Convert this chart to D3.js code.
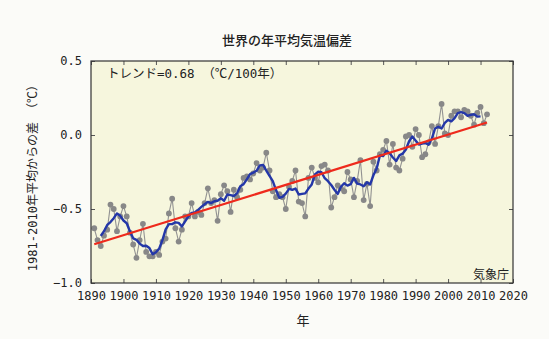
<!DOCTYPE html>
<html>
<head>
<meta charset="utf-8">
<script src="https://cdn.jsdelivr.net/npm/d3@7"></script>
<style>
  html, body { margin: 0; padding: 0; background: #fbfbf8; }
  svg { display: block; }
  text { font-family: "DejaVu Sans Mono", "Noto Sans CJK JP", sans-serif; fill: #222; }
</style>
</head>
<body>
<svg id="chart" width="549" height="339"></svg>
<script>
// Global annual mean surface temperature anomaly (°C, deviation from the 1981–2010 average)
const years = d3.range(1891, 2013);
const anomalies = [
  -0.63, -0.71, -0.75, -0.68, -0.64, -0.47, -0.50, -0.65, -0.55, -0.48,
  -0.55, -0.66, -0.74, -0.83, -0.71, -0.60, -0.79, -0.82, -0.82, -0.79,
  -0.81, -0.72, -0.70, -0.53, -0.43, -0.63, -0.72, -0.64, -0.55, -0.55,
  -0.46, -0.55, -0.52, -0.54, -0.46, -0.36, -0.46, -0.44, -0.58, -0.40,
  -0.34, -0.38, -0.52, -0.37, -0.42, -0.37, -0.29, -0.28, -0.30, -0.26,
  -0.19, -0.24, -0.22, -0.12, -0.24, -0.38, -0.42, -0.40, -0.42, -0.50,
  -0.35, -0.31, -0.24, -0.45, -0.46, -0.55, -0.29, -0.22, -0.29, -0.32,
  -0.21, -0.20, -0.24, -0.49, -0.42, -0.34, -0.36, -0.38, -0.25, -0.30,
  -0.42, -0.31, -0.17, -0.44, -0.33, -0.48, -0.18, -0.24, -0.13, -0.10,
  -0.04, -0.20, -0.06, -0.22, -0.24, -0.16, -0.01, 0.00, -0.08, 0.04,
  0.00, -0.15, -0.13, -0.05, 0.06, -0.06, 0.06, 0.21, 0.01, 0.00,
  0.13, 0.16, 0.16, 0.12, 0.17, 0.16, 0.13, 0.07, 0.15, 0.19,
  0.08, 0.14
];
const trendPerCentury = 0.68;   // °C per 100 years
const xTicks = d3.range(1890, 2021, 10);
const yTicks = [0.5, 0.0, -0.5, -1.0];

const titleText = "世界の年平均気温偏差";
const yTitle = "1981-2010年平均からの差 （℃）";
const xTitle = "年";
const trendLabel = "トレンド=0.68 （℃/100年）";
const sourceLabel = "気象庁";

const svg = d3.select("#chart");
const m = { left: 91, top: 61, right: 513, bottom: 283 };

const x = d3.scaleLinear().domain([1890, 2020]).range([m.left, m.right]);
const y = d3.scaleLinear().domain([-1.0, 0.5]).range([m.bottom, m.top]);

const data = years.map((yr, i) => ({ year: yr, v: anomalies[i] }));

// 5-year centred running mean
const smooth = [];
for (let i = 2; i < data.length - 2; i++) {
  smooth.push({ year: data[i].year, v: d3.mean(data.slice(i - 2, i + 3), d => d.v) });
}

// Linear trend with the stated slope, passing through the data centroid
const mYear = d3.mean(data, d => d.year), mVal = d3.mean(data, d => d.v);
const slope = trendPerCentury / 100;
const trend = [years[0], years[years.length - 1]].map(yr => ({ year: yr, v: mVal + slope * (yr - mYear) }));

// plot background
svg.append("rect")
  .attr("x", m.left).attr("y", m.top)
  .attr("width", m.right - m.left).attr("height", m.bottom - m.top)
  .attr("fill", "#f6f6dd");

const numFont = "'DejaVu Sans Mono', monospace";

// axes (ticks drawn inward)
const tickLen = 4;
svg.append("g").attr("transform", `translate(0,${m.bottom})`)
  .call(d3.axisBottom(x).tickValues(xTicks).tickSizeInner(-tickLen).tickSizeOuter(0).tickFormat(d3.format("d")).tickPadding(8))
  .call(g => g.select(".domain").remove())
  .call(g => g.selectAll("line").attr("stroke", "#555"))
  .call(g => g.selectAll("text").attr("font-size", 12).attr("fill", "#222").attr("font-family", numFont));

svg.append("g").attr("transform", `translate(0,${m.top})`)
  .call(d3.axisTop(x).tickValues(xTicks).tickSizeInner(-tickLen).tickSizeOuter(0).tickFormat(""))
  .call(g => g.select(".domain").remove())
  .call(g => g.selectAll("line").attr("stroke", "#555"));

svg.append("g").attr("transform", `translate(${m.left},0)`)
  .call(d3.axisLeft(y).tickValues(yTicks).tickSizeInner(-tickLen).tickSizeOuter(0).tickFormat(d3.format(".1f")).tickPadding(9))
  .call(g => g.select(".domain").remove())
  .call(g => g.selectAll("line").attr("stroke", "#555"))
  .call(g => g.selectAll("text").attr("font-size", 12).attr("fill", "#222").attr("font-family", numFont));

svg.append("g").attr("transform", `translate(${m.right},0)`)
  .call(d3.axisRight(y).tickValues(yTicks).tickSizeInner(-tickLen).tickSizeOuter(0).tickFormat(""))
  .call(g => g.select(".domain").remove())
  .call(g => g.selectAll("line").attr("stroke", "#555"));

// annual values
svg.append("path").datum(data)
  .attr("fill", "none").attr("stroke", "#929292").attr("stroke-width", 1.1)
  .attr("d", d3.line().x(d => x(d.year)).y(d => y(d.v)));

svg.append("g").selectAll("circle").data(data).join("circle")
  .attr("cx", d => x(d.year)).attr("cy", d => y(d.v)).attr("r", 2.9)
  .attr("fill", "#888888");

// running mean
svg.append("path").datum(smooth)
  .attr("fill", "none").attr("stroke", "#2437a8").attr("stroke-width", 2.4)
  .attr("stroke-linejoin", "round")
  .attr("d", d3.line().x(d => x(d.year)).y(d => y(d.v)));

// trend
svg.append("path").datum(trend)
  .attr("fill", "none").attr("stroke", "#ee2a1c").attr("stroke-width", 2.2)
  .attr("d", d3.line().x(d => x(d.year)).y(d => y(d.v)));

// frame
svg.append("rect")
  .attr("x", m.left).attr("y", m.top)
  .attr("width", m.right - m.left).attr("height", m.bottom - m.top)
  .attr("fill", "none").attr("stroke", "#333").attr("stroke-width", 1.2);

// texts
svg.append("text").attr("x", 287).attr("y", 45).attr("text-anchor", "middle")
  .attr("font-family", "'Noto Sans CJK JP', sans-serif")
  .attr("font-size", 13).attr("font-weight", 500).text(titleText);

svg.append("text").attr("x", 107).attr("y", 78)
  .attr("font-size", 12.5).text(trendLabel);

svg.append("text").attr("x", 509).attr("y", 279).attr("text-anchor", "end")
  .attr("font-size", 12).text(sourceLabel);

svg.append("text").attr("transform", `translate(37,175) rotate(-90)`).attr("text-anchor", "middle")
  .attr("font-size", 12).text(yTitle);

svg.append("text").attr("x", 303).attr("y", 325).attr("text-anchor", "middle")
  .attr("font-size", 13).text(xTitle);
</script>
</body>
</html>
